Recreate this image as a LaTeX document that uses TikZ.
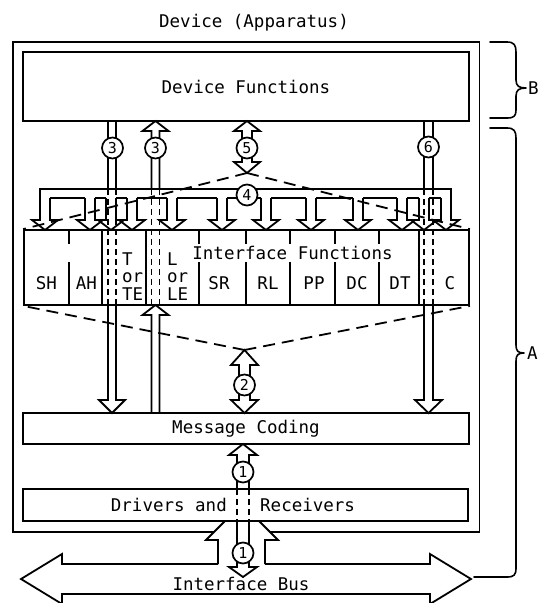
\documentclass[tikz,border=0pt]{standalone}
\usepackage{fontspec}
\newfontfamily\typew{DejaVu Sans Mono}
\usetikzlibrary{positioning}
\tikzstyle{frame} = [rectangle, draw=black, line width=1.8pt, inner sep=0pt]
\tikzstyle{txt} = [inner sep=0pt, font=\typew\fontsize{17.5}{17.5}\selectfont]
\tikzstyle{num} = [circle, draw=black, fill=white, line width=1.7pt, minimum size=21pt, inner sep=0pt, font=\typew\fontsize{15}{15}\selectfont]
\tikzstyle{hollow} = [line width=1.8pt, line join=miter]
\tikzstyle{route} = [line width=1.8pt, dash pattern=on 12pt off 7pt]
\tikzstyle{thru} = [line width=1.6pt, dash pattern=on 6pt off 4pt]
\tikzstyle{curly} = [line width=1.6pt, line join=round, line cap=round]

\begin{document}
\begin{tikzpicture}[x=1pt, y=-1pt]
\useasboundingbox (0,0) rectangle (539,603);
\clip (0,0) rectangle (539,603);

% Nodes
\node (title) [txt] at (254,23) {Device (Apparatus)};
\node (devfunc) [frame, txt, minimum width=446pt, minimum height=69pt] at (246,86.5) {Device Functions};
\node (intfunc) [frame, minimum width=445pt, minimum height=75pt] at (246.5,267.5) {};
\node (iftext) [txt] at (292.5,253) {Interface Functions};
\node (msgcode) [frame, txt, minimum width=446pt, minimum height=31pt] at (246,428.5) {Message Coding};
\node (drivers) [frame, minimum width=445pt, minimum height=32pt] at (245.5,505) {};
\node (drvtext) [txt, anchor=east] at (227,505) {Drivers and};
\node (rcvtext) [txt, right=33pt of drvtext] {Receivers};
\node (bus) [txt] at (241,584) {Interface Bus};

% Interface function cells
\foreach \x in {69,199,246,290,335,379} {
  \draw [hollow] (\x,230) -- (\x,244);
  \draw [hollow] (\x,262) -- (\x,305);
}
\foreach \x in {102,146,419}
  \draw [hollow] (\x,230) -- (\x,305);
\foreach \x/\name in {46.5/SH, 86.5/AH, 219/SR, 268/RL, 314/PP, 357/DC, 400/DT, 450/C}
  \node (cell\name) [txt] at (\x,283) {\name};
\node (cellT) [txt, align=left, anchor=west] at (122,276.5) {T\\or\\TE};
\node (cellL) [txt, align=left, anchor=west] at (167,276.5) {L\\or\\LE};

% Device frame
\draw [hollow] (214,532) -- (13,532) -- (13,42) -- (479.5,42) -- (479.5,532) -- (270,532);

% Braces
\draw [curly] (490,42) -- (507,42) .. controls (514,42) and (516,45) .. (516,52) -- (516,80)
  .. controls (516,86) and (519,88) .. (526,88) .. controls (519,88) and (516,90) .. (516,96)
  -- (516,110) .. controls (516,116) and (514,118) .. (507,118) -- (490,118);
\node (lblB) [txt, anchor=west] at (528,88) {B};
\draw [curly] (490,128) -- (507,128) .. controls (514,128) and (516,131) .. (516,138) -- (516,345)
  .. controls (516,351) and (518,353) .. (524,353) .. controls (518,353) and (516,355) .. (516,361)
  -- (516,568) .. controls (516,575) and (514,577) .. (507,577) -- (474,577);
\node (lblA) [txt, anchor=west] at (527,353) {A};

% Route 4 bus
\draw [hollow] (40,198) -- (40,189) -- (451,189) -- (451,198);
\foreach \c in {45,90,111,132,172,222,266,311,358,402,424,446}
  \draw [hollow] (\c-5,198) -- (\c-5,220) -- (\c-13,220) -- (\c,230) -- (\c+13,220) -- (\c+5,220) -- (\c+5,198);
\foreach \a/\b in {45/90, 90/111, 111/132, 132/172, 172/222, 222/266, 266/311, 311/358, 358/402, 402/424, 424/446}
  \draw [hollow] (\a+5,198) -- (\b-5,198);

% Route 3 (left)
\draw [hollow] (108,121) -- (108,189) (116,121) -- (116,189);
\draw [thru] (108,189) -- (108,305) (116,189) -- (116,305);
\draw [hollow] (108,305) -- (108,400) -- (99,400) -- (112,413) -- (125,400) -- (116,400) -- (116,305);

% Route 3 (right)
\draw [hollow] (151.5,189) -- (151.5,131) -- (142.5,131) -- (155.5,121) -- (168.5,131) -- (159.5,131) -- (159.5,189);
\draw [thru] (151.5,189) -- (151.5,305) (159.5,189) -- (159.5,305);
\draw [hollow] (151.5,413) -- (151.5,315) -- (142.5,315) -- (155.5,305) -- (168.5,315) -- (159.5,315) -- (159.5,413);

% Route 5
\coordinate (meet5) at (247,173);
\draw [hollow] (242,131) -- (242,162) -- (234,162) -- (meet5) -- (260,162) -- (252,162) -- (252,131)
  -- (260,131) -- (247,121) -- (234,131) -- cycle;
\draw [route] (meet5) -- (intfunc.north west);
\draw [route] (meet5) -- (intfunc.north east);

% Route 6
\draw [hollow] (424,121) -- (424,189) (433,121) -- (433,189);
\draw [thru] (424,189) -- (424,305) (433,189) -- (433,305);
\draw [hollow] (424,305) -- (424,400) -- (415,400) -- (428.5,413) -- (442,400) -- (433,400) -- (433,305);

% Route 2
\coordinate (meet2) at (244.5,350);
\draw [route] (meet2) -- (intfunc.south west);
\draw [route] (meet2) -- (intfunc.south east);
\draw [hollow] (239,365) -- (239,400) -- (231,400) -- (244.5,413) -- (258,400) -- (250,400) -- (250,365)
  -- (258,365) -- (meet2) -- (231,365) -- cycle;

% Route 1
\draw [hollow] (237,489) -- (237,455) -- (229,455) -- (243,444) -- (257,455) -- (249,455) -- (249,489);
\draw [thru] (237,489) -- (237,521) (249,489) -- (249,521);
\draw [hollow] (237,521) -- (237,567) -- (229,567) -- (243,577) -- (257,567) -- (249,567) -- (249,521);

% Interface bus
\draw [hollow] (218,564) -- (218,540) -- (206,540) -- (225,521) (259,521) -- (278,540) -- (265,540) -- (265,564);
\draw [hollow] (218,564) -- (62,564) -- (62,554) -- (21,579) -- (62,604) -- (62,594) -- (430,594)
  -- (430,604) -- (471,579) -- (430,554) -- (430,564) -- (265,564);

% Route numbers
\node (n3a) [num] at (112.5,148) {3};
\node (n3b) [num] at (155.5,148) {3};
\node (n5) [num] at (247,148) {5};
\node (n6) [num] at (428.5,147) {6};
\node (n4) [num] at (247,195) {4};
\node (n2) [num] at (244.5,385) {2};
\node (n1a) [num] at (243,472) {1};
\node (n1b) [num] at (243,553) {1};

\end{tikzpicture}
\end{document}
